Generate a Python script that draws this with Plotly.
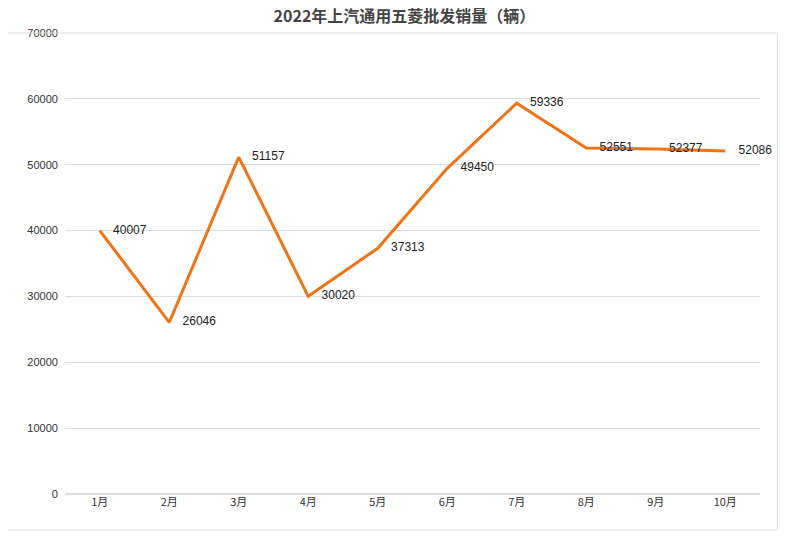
import plotly.graph_objects as go

months = ['1月', '2月', '3月', '4月', '5月', '6月', '7月', '8月', '9月', '10月']
sales = [40007, 26046, 51157, 30020, 37313, 49450, 59336, 52551, 52377, 52086]

fig = go.Figure()
fig.add_trace(go.Scatter(
    x=months, y=sales, mode='lines+text',
    line=dict(color='#EE7418', width=3),
    text=['    ' + str(v) for v in sales], textposition='middle right',
    textfont=dict(size=12, color='#222222', family='Liberation Sans'),
    cliponaxis=False,
))

fig.update_layout(
    width=793, height=552,
    margin=dict(l=57, r=41, t=25, b=66, autoexpand=False),
    paper_bgcolor='white', plot_bgcolor='white',
    showlegend=False,
    title=dict(text='<b>2022年上汽通用五菱批发销量（辆）</b>', x=0.5, y=0.995, yanchor='top',
               font=dict(size=16, color='#444444', family='Noto Sans CJK SC')),
    font=dict(family='Liberation Sans', size=11, color='#333333'),
    shapes=[dict(type='rect', xref='paper', yref='paper', x0=-0.083, x1=1.025, y0=-0.078, y1=1.0,
                 line=dict(color='#DDDDDD', width=1))],
)
fig.update_xaxes(type='category', range=[-0.5, 9.5], showgrid=False, ticks='', showline=False,
                 automargin=False, tickfont=dict(family='Noto Sans CJK SC', size=11))
fig.update_yaxes(range=[0, 70000], dtick=10000, gridcolor='#DDDDDD', zeroline=True,
                 zerolinecolor='#DDDDDD', ticksuffix='  ', tickformat='d', automargin=False)

fig.write_html('out.html')
